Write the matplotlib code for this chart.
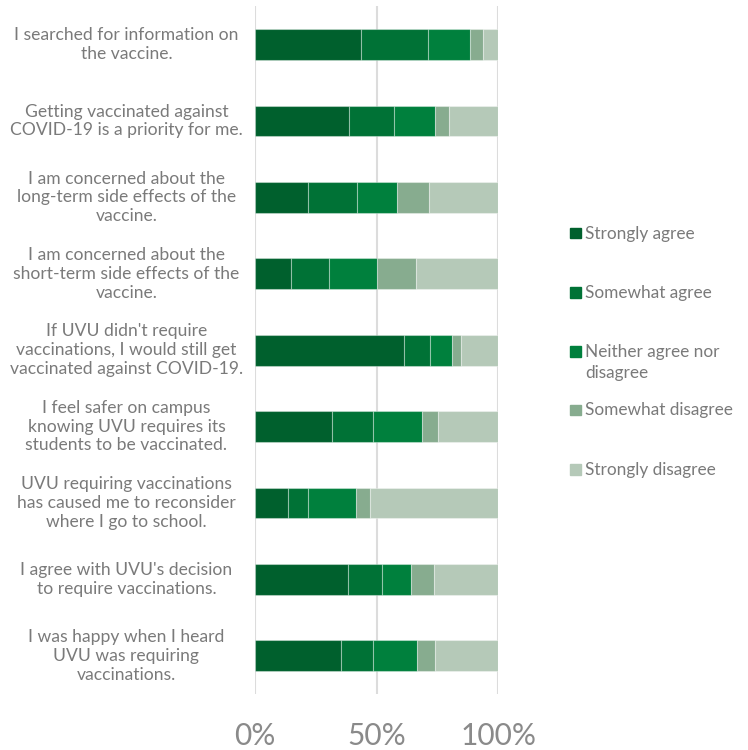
import matplotlib
matplotlib.use("Agg")
import matplotlib.pyplot as plt
from matplotlib.patches import Rectangle
import matplotlib.transforms as mtransforms
import numpy as np

plt.rcParams['font.family'] = ['Lato', 'DejaVu Sans']

# survey statements, top to bottom
statements = [
    "I searched for information on\nthe vaccine.",
    "Getting vaccinated against\nCOVID-19 is a priority for me.",
    "I am concerned about the\nlong-term side effects of the\nvaccine.",
    "I am concerned about the\nshort-term side effects of the\nvaccine.",
    "If UVU didn't require\nvaccinations, I would still get\nvaccinated against COVID-19.",
    "I feel safer on campus\nknowing UVU requires its\nstudents to be vaccinated.",
    "UVU requiring vaccinations\nhas caused me to reconsider\nwhere I go to school.",
    "I agree with UVU's decision\nto require vaccinations.",
    "I was happy when I heard\nUVU was requiring\nvaccinations.",
]

responses = ["Strongly agree", "Somewhat agree", "Neither agree nor\ndisagree",
             "Somewhat disagree", "Strongly disagree"]

# share of answers (%) per statement
strongly_agree    = [43.7, 38.8, 21.9, 14.9, 61.4, 31.8, 13.7, 38.4, 35.5]
somewhat_agree    = [27.4, 18.5, 20.2, 15.7, 10.7, 16.5,  8.2, 14.0, 12.8]
neither           = [17.1, 16.8, 16.3, 19.6,  8.8, 20.3, 19.7, 11.8, 18.1]
somewhat_disagree = [ 5.7,  5.5, 13.2, 16.1,  3.7,  6.6,  5.7,  9.5,  7.7]
strongly_disagree = [ 6.1, 20.4, 28.4, 33.7, 15.4, 24.8, 52.7, 26.3, 25.9]

colors = ["#00602d", "#007236", "#00803d", "#87ac8f", "#b5c9b8"]
grey = "#7a7a7a"

series = [strongly_agree, somewhat_agree, neither, somewhat_disagree, strongly_disagree]
data = np.array(series, dtype=float)
data = data / data.sum(axis=0)  # 100% stacked

fig = plt.figure(figsize=(7.48, 7.5), dpi=100)
ax = fig.add_axes([0.3409, 0.0747, 0.3253, 0.9168])

y = np.arange(len(statements))
left = np.zeros(len(statements))
for i in range(len(series)):
    ax.barh(y, data[i], left=left, height=0.405, color=colors[i],
            edgecolor=(1, 1, 1, 0.35), linewidth=0.8, zorder=3)
    left += data[i]

ax.set_xlim(0, 1)
ax.set_ylim(len(statements) - 0.5, -0.5)
ax.set_xticks([0, 0.5, 1])
ax.set_xticklabels(["0%", "50%", "100%"], fontsize=21.5, color="#8a8a8a")
ax.tick_params(axis='x', length=0, pad=20)
ax.set_yticks([])
for v in [0, 0.5, 1]:
    ax.axvline(v, color="#dcdcdc", linewidth=1.5, zorder=1)
for key, spine in ax.spines.items():
    spine.set_visible(False)

# category labels centred in the left margin
trans = mtransforms.blended_transform_factory(fig.transFigure, ax.transData)
for i, s in enumerate(statements):
    ax.text(0.169, y[i], s, transform=trans, ha='center', va='center',
            multialignment='center', fontsize=12.6, color=grey, linespacing=1.22)

# legend
leg_y = [233, 292.5, 351.5, 410, 469.5]
for i, lab in enumerate(responses):
    yy = 1 - leg_y[i] / 750
    fig.add_artist(Rectangle((570 / 748, yy - 5.3 / 750), 10.7 / 748, 10.7 / 750,
                             transform=fig.transFigure, color=colors[i]))
    fig.text(585 / 748, yy + 7.5 / 750, lab, ha='left', va='top', fontsize=12.4,
             color=grey, linespacing=1.35)

fig.savefig("out.png", dpi=100)
